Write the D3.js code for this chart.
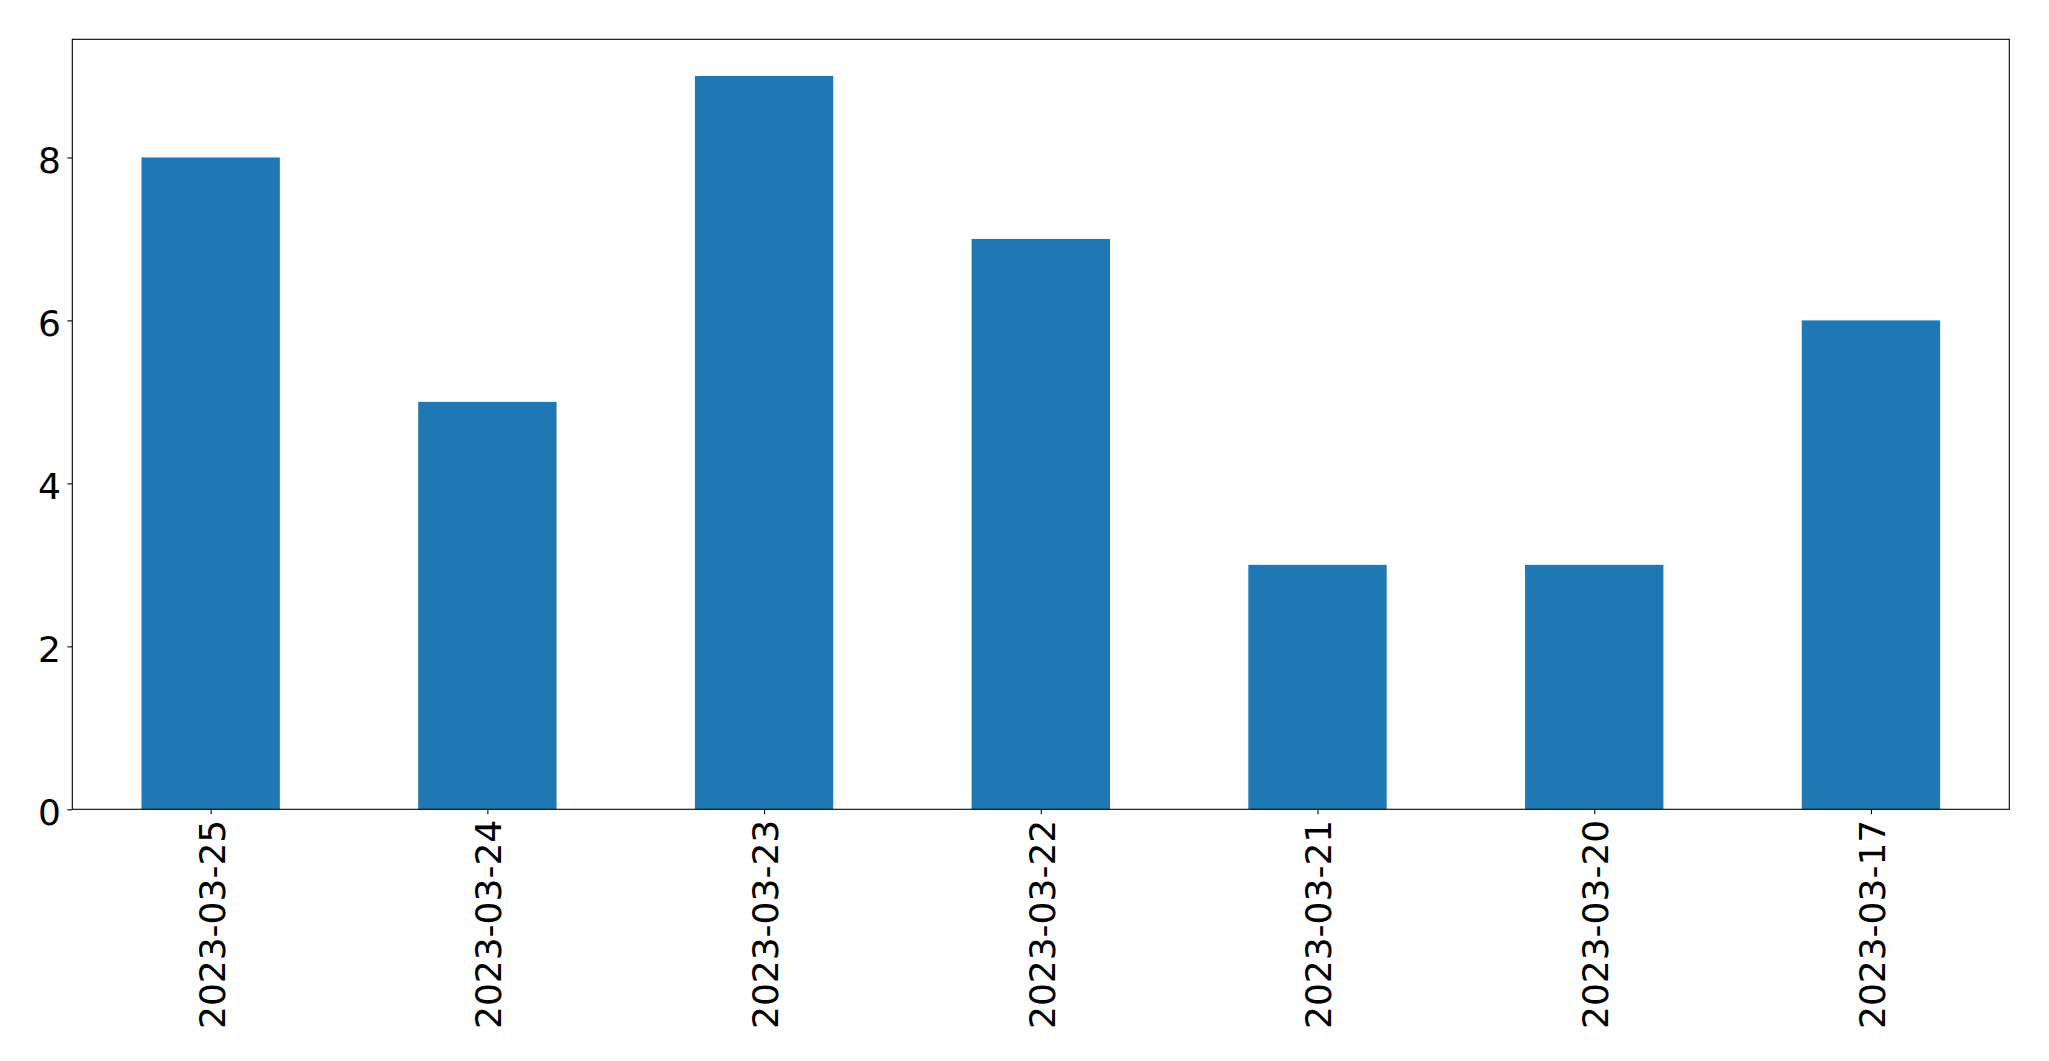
<!DOCTYPE html>
<html>
<head>
<meta charset="utf-8">
<script src="https://cdn.jsdelivr.net/npm/d3@7"></script>
<style>
  html, body { margin: 0; padding: 0; background: #fff; }
  svg { display: block; }
  text { font-family: "DejaVu Sans", sans-serif; fill: #000; }
</style>
</head>
<body>
<svg id="chart" width="2049" height="1061"></svg>
<script>
const categories = ["2023-03-25", "2023-03-24", "2023-03-23", "2023-03-22", "2023-03-21", "2023-03-20", "2023-03-17"];
const values = [8, 5, 9, 7, 3, 3, 6];
const yTicks = [0, 2, 4, 6, 8];

const W = 2049, H = 1061;
const margin = { left: 72.3, right: 2049 - 2009.3, top: 39.3, bottom: 1061 - 809.3 };
const fontSize = 36;
const tickLen = 4.9;

const svg = d3.select("#chart");
const x0 = margin.left, x1 = W - margin.right;
const y0 = H - margin.bottom, y1 = margin.top;

// linear x over category indices (-0.5 .. n-0.5), bar width 0.5
const x = d3.scaleLinear().domain([-0.5, categories.length - 0.5]).range([x0, x1]);
const y = d3.scaleLinear().domain([0, d3.max(values) * 1.05]).range([y0, y1]);

// bars
svg.append("g").selectAll("rect").data(values).join("rect")
  .attr("x", (d, i) => x(i - 0.25))
  .attr("width", (d, i) => x(i + 0.25) - x(i - 0.25))
  .attr("y", d => y(d))
  .attr("height", d => y(0) - y(d))
  .attr("fill", "#1f77b4");

// y axis
const yAxis = svg.append("g").attr("transform", `translate(${x0},0)`)
  .call(d3.axisLeft(y).tickValues(yTicks).tickFormat(d3.format("d")).tickSize(tickLen).tickPadding(4.9));
yAxis.select(".domain").remove();
yAxis.selectAll(".tick line").attr("stroke", "#000").attr("stroke-width", 1.1);
yAxis.selectAll(".tick text")
  .attr("font-size", fontSize)
  .attr("font-family", "DejaVu Sans")
  .attr("fill", "#000")
  .attr("dy", null)
  .attr("dominant-baseline", "alphabetic")
  .attr("y", 15.3)
  .attr("x", -11.3);

// x axis
const xAxis = svg.append("g").attr("transform", `translate(0,${y0})`)
  .call(d3.axisBottom(x).tickValues(d3.range(categories.length)).tickFormat(i => categories[i]).tickSize(tickLen));
xAxis.select(".domain").remove();
xAxis.selectAll(".tick line").attr("stroke", "#000").attr("stroke-width", 1.1);
xAxis.selectAll(".tick text")
  .attr("font-size", fontSize)
  .attr("font-family", "DejaVu Sans")
  .attr("fill", "#000")
  .attr("dy", null)
  .attr("y", 0)
  .attr("dominant-baseline", "alphabetic")
  .attr("text-anchor", "end")
  .attr("transform", "translate(13.4,10.5) rotate(-90)");

// frame
svg.append("rect")
  .attr("x", x0).attr("y", y1)
  .attr("width", x1 - x0).attr("height", y0 - y1)
  .attr("fill", "none").attr("stroke", "#000").attr("stroke-width", 1.1);
</script>
</body>
</html>
